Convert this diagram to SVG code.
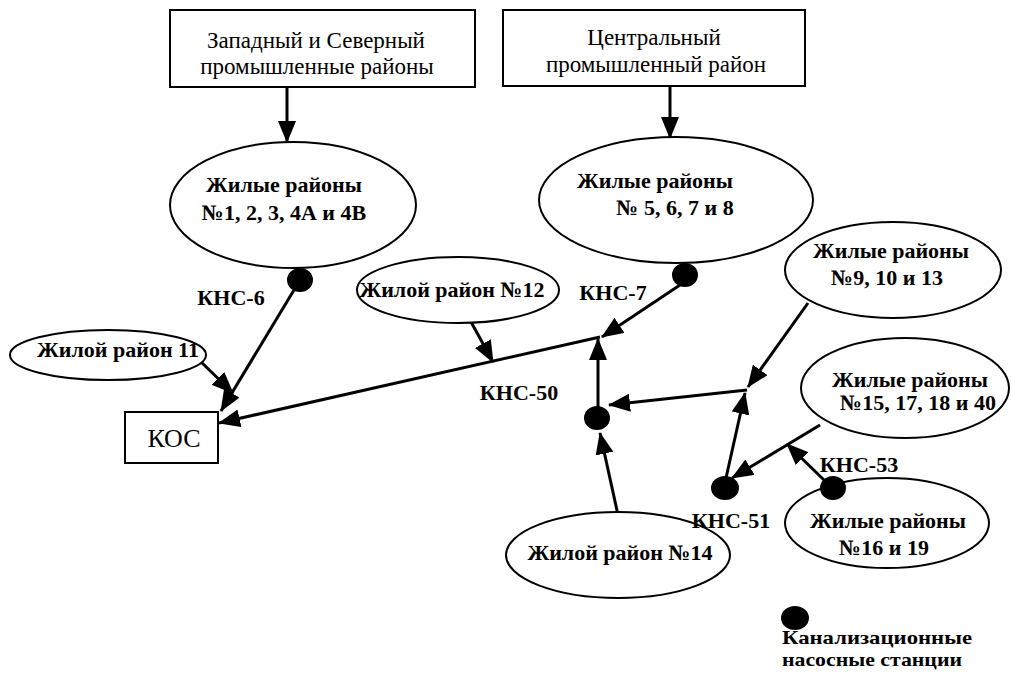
<svg xmlns="http://www.w3.org/2000/svg" width="1014" height="688" viewBox="0 0 1014 688">
<defs>
<style>
.bx{fill:#fff;stroke:#000;stroke-width:2}
.el{fill:#fff;stroke:#000;stroke-width:2}
.st{fill:#000}
.t{font-family:"Liberation Serif","Times New Roman",serif;fill:#000;text-anchor:middle}
.tb{font-size:23px}
.te{font-size:22px;font-weight:bold}
.lg{font-size:19px;font-weight:bold}
.c{stroke:#000;stroke-width:3;fill:none;marker-end:url(#ah)}
</style>
<marker id="ah" markerUnits="userSpaceOnUse" markerWidth="22" markerHeight="18" refX="21" refY="9" orient="auto">
<path d="M0,0 L22,9 L0,18 z" fill="#000"/>
</marker>
</defs>
<rect width="1014" height="688" fill="#fff"/>
<g id="connectors">
<line class="c" x1="287" y1="87" x2="287" y2="142"/>
<line class="c" x1="670" y1="87" x2="670" y2="138"/>
<line class="c" x1="294" y1="290" x2="221" y2="411"/>
<line class="c" x1="197" y1="358" x2="233" y2="393"/>
<line class="c" x1="600" y1="337" x2="219" y2="423"/>
<line class="c" x1="470" y1="320" x2="493" y2="362"/>
<line class="c" x1="680" y1="285" x2="602" y2="337"/>
<line class="c" x1="598" y1="408" x2="598" y2="339"/>
<line class="c" x1="747" y1="390" x2="609" y2="405"/>
<line class="c" x1="808" y1="303" x2="748" y2="387"/>
<line class="c" x1="726" y1="478" x2="745" y2="393"/>
<line class="c" x1="820" y1="425" x2="732" y2="478"/>
<line class="c" x1="824" y1="480" x2="787" y2="444"/>
<line class="c" x1="618" y1="515" x2="600" y2="433"/>
</g>
<g id="box-west">
<rect class="bx" x="170" y="10" width="305" height="77"/>
<text class="t tb" x="316" y="48">Западный и Северный</text>
<text class="t tb" x="317" y="74">промышленные районы</text>
</g>
<g id="box-central">
<rect class="bx" x="503" y="10" width="302" height="76"/>
<text class="t tb" x="654" y="45">Центральный</text>
<text class="t tb" x="656" y="72">промышленный район</text>
</g>
<g id="res-1-4">
<ellipse class="el" cx="293" cy="205" rx="123" ry="63"/>
<text class="t te" x="284" y="192">Жилые районы</text>
<text class="t te" x="284" y="220">№1, 2, 3, 4А и 4В</text>
</g>
<g id="res-5-8">
<ellipse class="el" cx="676" cy="200" rx="137" ry="63"/>
<text class="t te" x="655" y="188">Жилые районы</text>
<text class="t te" x="675" y="215">№ 5, 6, 7 и 8</text>
</g>
<g id="res-9-13">
<ellipse class="el" cx="893" cy="270" rx="108" ry="48"/>
<text class="t te" x="891" y="258">Жилые районы</text>
<text class="t te" x="887" y="285">№9, 10 и 13</text>
</g>
<g id="res-12">
<ellipse class="el" cx="458" cy="290" rx="101" ry="33"/>
<text class="t te" x="452" y="297">Жилой район №12</text>
</g>
<g id="res-11">
<ellipse class="el" cx="108" cy="355" rx="98" ry="25"/>
<text class="t te" x="118" y="357">Жилой район 11</text>
</g>
<g id="kos">
<rect class="bx" x="125" y="412" width="93" height="51"/>
<text class="t" x="174" y="447" style="font-size:26px">КОС</text>
</g>
<g id="res-15-40">
<ellipse class="el" cx="905" cy="388" rx="104" ry="50"/>
<text class="t te" x="910" y="387">Жилые районы</text>
<text class="t te" x="918" y="410">№15, 17, 18 и 40</text>
</g>
<g id="res-16-19">
<ellipse class="el" cx="887" cy="523" rx="102" ry="45"/>
<text class="t te" x="888" y="528">Жилые районы</text>
<text class="t te" x="884" y="555">№16 и 19</text>
</g>
<g id="res-14">
<ellipse class="el" cx="618" cy="555" rx="112" ry="43"/>
<text class="t te" x="620" y="560">Жилой район №14</text>
</g>
<g id="kns-6">
<ellipse class="st" cx="300" cy="280" rx="13" ry="12"/>
<text class="t te" x="231" y="305">КНС-6</text>
</g>
<g id="kns-7">
<ellipse class="st" cx="685" cy="275" rx="13" ry="12"/>
<text class="t te" x="613" y="300">КНС-7</text>
</g>
<g id="kns-50">
<ellipse class="st" cx="597" cy="418" rx="13" ry="12"/>
<text class="t te" x="519" y="400">КНС-50</text>
</g>
<g id="kns-51">
<ellipse class="st" cx="725" cy="488" rx="14" ry="12"/>
<text class="t te" x="731" y="528">КНС-51</text>
</g>
<g id="kns-53">
<ellipse class="st" cx="833" cy="488" rx="13" ry="12"/>
<text class="t te" x="859" y="472">КНС-53</text>
</g>
<g id="legend">
<ellipse class="st" cx="795" cy="618" rx="14" ry="12"/>
<text class="t lg" x="877" y="644" textLength="190" lengthAdjust="spacingAndGlyphs">Канализационные</text>
<text class="t lg" x="872" y="666" textLength="180" lengthAdjust="spacingAndGlyphs">насосные станции</text>
</g>
</svg>
